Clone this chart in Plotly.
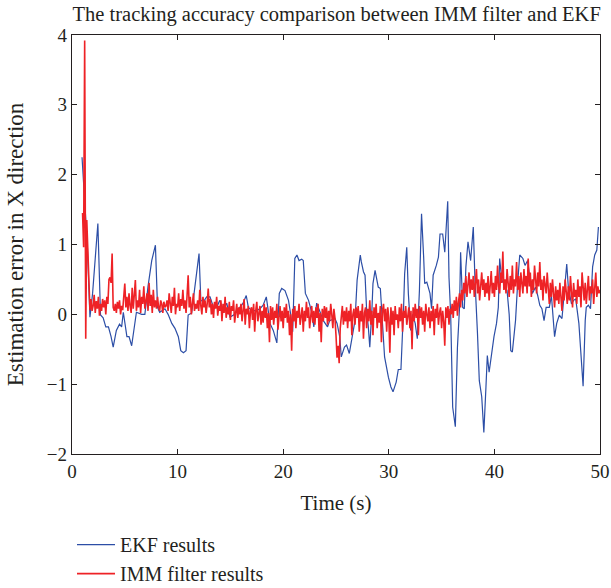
import plotly.graph_objects as go

# EKF results (blue): time (s) and error
ekf_t = [0.95, 1.45, 1.7, 1.95, 2.2, 2.45, 2.7, 2.95, 3.2, 3.45, 3.7, 3.9, 4.2, 4.5, 4.7, 4.86,
         5.2, 5.4, 5.65, 6.1, 6.6, 6.9, 7.2, 7.55, 7.9, 8.1, 8.3, 8.8, 9.1, 9.45, 9.75, 10.07,
         10.3, 10.55, 10.8, 11.0, 11.33, 11.65, 11.9, 12.03, 12.2, 12.45, 12.75, 13.07, 13.4,
         13.7, 14.0, 14.3, 14.65, 14.96, 15.3, 15.6, 15.9, 16.2, 16.5, 16.7, 17.0, 17.4, 17.8,
         18.1, 18.4, 18.5, 18.75, 19.06, 19.4, 19.63, 19.86, 20.17, 20.5, 20.7, 20.9, 21.1,
         21.3, 21.5, 21.75, 21.9, 22.1, 22.4, 22.7, 22.9, 23.17, 23.5, 23.8, 24.2, 24.4, 24.9,
         25.1, 25.35, 25.5, 25.8, 26.0, 26.26, 26.5, 26.8, 27.0, 27.3, 27.4, 27.6, 27.75, 27.9,
         28.06, 28.2, 28.4, 28.5, 28.7, 28.85, 29.0, 29.2, 29.4, 29.6, 29.96, 30.2, 30.4, 30.7,
         30.9, 31.15, 31.4, 31.5, 31.7, 31.85, 32.07, 32.26, 32.5, 32.7, 32.9, 33.1, 33.3, 33.4,
         33.6, 33.9, 34.05, 34.2, 34.5, 34.7, 34.85, 35.1, 35.3, 35.58, 35.7, 35.86, 36.05, 36.3,
         36.5, 36.7, 36.8, 37.0, 37.15, 37.3, 37.5, 37.75, 38.0, 38.16, 38.4, 38.57, 38.8, 39.0,
         39.2, 39.33, 39.5, 39.7, 39.96, 40.2, 40.37, 40.5, 40.7, 40.9, 41.2, 41.4, 41.55, 41.7,
         42.0, 42.2, 42.4, 42.7, 42.9, 43.15, 43.4, 43.6, 43.8, 43.9, 44.1, 44.3, 44.5, 44.7,
         44.9, 45.2, 45.4, 45.7, 45.9, 46.15, 46.4, 46.6, 46.85, 47.0, 47.3, 47.5, 47.7, 48.0,
         48.2, 48.4, 48.6, 48.7, 48.9, 49.1, 49.3, 49.5, 49.7, 49.85]
ekf_err = [2.25, 1.0, -0.04, 0.3, 0.8, 1.3, -0.01, -0.05, -0.18, -0.18, -0.32, -0.47, -0.23,
           -0.14, -0.18, 0.03, -0.32, -0.32, -0.45, 0.03, 0.0, 0.0, 0.4, 0.77, 0.99, 0.1, 0.03,
           0.08, 0.0, -0.13, -0.2, -0.32, -0.52, -0.55, -0.52, -0.01, 0.02, 0.44, 0.73, 0.87,
           0.2, 0.18, 0.25, 0.25, 0.1, 0.1, 0.2, 0.06, 0.16, -0.04, -0.01, 0.06, 0.1, 0.16, 0.27,
           0.1, 0.06, 0.05, 0.08, 0.13, 0.25, 0.13, -0.13, -0.23, -0.41, 0.3, 0.37, 0.34, 0.2,
           0.01, -0.25, 0.8, 0.85, 0.77, 0.79, 0.77, 0.3, 0.2, 0.03, -0.18, 0.16, 0.03, -0.09,
           -0.18, -0.09, -0.06, -0.13, -0.32, -0.61, -0.47, -0.44, -0.56, -0.37, -0.09, 0.49,
           0.85, 0.75, 0.61, 0.56, 0.06, -0.18, -0.47, 0.06, 0.44, 0.63, 0.53, 0.39, 0.37, -0.09,
           -0.61, -0.9, -1.04, -1.11, -0.97, -0.79, -0.79, 0.1, 0.58, 0.96, 0.3, -0.23, 0.0,
           -0.13, -0.35, 0.34, 1.44, 0.82, 0.44, 0.46, 0.3, 0.08, 0.56, 0.7, 0.82, 1.15, 1.15,
           0.89, 1.62, 0.53, 0.0, -1.33, -1.61, -0.47, 0.1, 0.89, 0.1, 0.08, 0.68, 1.04, 0.77,
           1.25, 0.49, -0.28, -0.95, -1.18, -1.69, -1.04, -0.59, -0.83, -0.59, -0.32, -0.13, 0.1,
           0.8, 0.49, 0.44, 0.34, 0.0, -0.52, -0.54, -0.09, 0.44, 0.85, 0.8, 0.7, 0.77, 0.46, 0.3,
           0.37, 0.39, 0.27, 0.13, 0.08, -0.09, 0.1, 0.1, 0.27, -0.32, -0.13, -0.01, -0.06, 0.3,
           0.72, 0.39, 0.15, 0.2, 0.22, -0.13, -0.61, -1.03, -0.09, 0.1, 0.13, 0.08, 0.68, 0.85,
           0.92, 1.25]

# IMM filter results (red), sampled every 0.1 s from 1.0 s to 50.0 s
imm_start, imm_step = 1.0, 0.1
imm_err = [
    1.45, 0.96, 3.92, -0.35, 1.35, 0.95, 0.63, 0.06, 0.22, 0.05,
    0.12, 0.28, 0.02, 0.19, 0.08, 0.25, -0.02, 0.15, 0.05, 0.22,
    0.1, 0.2, 0.0, 0.25, 0.15, 0.5, 0.53, 0.45, 0.87, 0.1,
    0.05, 0.15, 0.02, 0.18, 0.08, 0.2, 0.0, 0.12, 0.06, 0.22,
    0.44, 0.1, 0.25, 0.05, 0.3, 0.12, 0.02, 0.38, 0.08, 0.28,
    0.49, 0.05, 0.2, 0.1, 0.35, 0.02, 0.25, 0.15, 0.4, 0.08,
    0.2, 0.3, 0.05, 0.45, 0.12, 0.28, 0.02, 0.35, 0.1, 0.2,
    0.08, 0.25, 0.1, 0.05, 0.2, 0.15, 0.02, 0.18, 0.1, 0.12,
    0.2, 0.05, 0.3, 0.1, 0.02, 0.25, 0.12, 0.38, 0.0, 0.15,
    0.1, 0.3, 0.05, 0.22, 0.12, 0.35, 0.08, 0.2, 0.02, 0.28,
    0.56, 0.1, 0.25, 0.0, 0.18, 0.3, 0.05, 0.15, 0.08, 0.2,
    0.05, 0.35, 0.12, 0.0, 0.25, 0.1, 0.2, 0.02, 0.15, 0.37,
    0.1, 0.22, 0.0, 0.15, -0.05, 0.18, 0.08, 0.25, -0.02, 0.12,
    0.05, 0.2, -0.1, 0.15, 0.02, 0.25, -0.05, 0.1, 0.0, 0.18,
    -0.08, 0.12, 0.05, 0.2, -0.12, 0.08, 0.15, -0.05, 0.1, 0.0,
    0.15, -0.1, 0.05, 0.22, -0.15, 0.08, 0.0, 0.12, -0.2, 0.05,
    0.1, -0.08, 0.15, -0.25, 0.05, 0.18, -0.1, 0.02, 0.12, -0.15,
    0.05, -0.12, 0.15, -0.05, 0.1, -0.2, 0.02, -0.4, 0.12, -0.08,
    0.1, -0.15, 0.05, -0.05, 0.15, -0.22, 0.02, 0.12, -0.1, 0.05,
    -0.2, 0.1, -0.05, 0.15, -0.12, 0.05, -0.3, 0.0, -0.52, 0.08,
    -0.1, 0.12, -0.2, 0.05, -0.05, 0.15, -0.15, 0.0, 0.1, -0.25,
    0.05, -0.1, 0.18, -0.05, 0.1, -0.2, 0.02, 0.12, -0.12, 0.05,
    -0.15, 0.1, -0.05, 0.15, -0.25, 0.02, -0.4, 0.08, -0.1, 0.12,
    -0.05, 0.1, -0.15, 0.05, -0.1, 0.15, 0.0, -0.2, 0.08, -0.05,
    -0.3, -0.62, -0.45, -0.7, -0.2, -0.05, 0.12, -0.15, 0.05, -0.1,
    0.1, -0.2, 0.05, -0.1, 0.15, -0.3, 0.0, 0.08, -0.15, 0.1,
    -0.05, 0.12, -0.25, 0.05, -0.1, 0.15, -0.35, 0.02, 0.1, -0.2,
    0.08, -0.1, 0.2, -0.15, 0.05, -0.3, 0.1, -0.05, 0.15, -0.2,
    0.02, -0.12, 0.12, -0.4, 0.05, 0.15, -0.1, 0.08, -0.25, 0.1,
    -0.05, -0.55, 0.1, -0.15, 0.05, -0.3, 0.12, -0.08, 0.0, -0.2,
    0.1, -0.1, 0.15, -0.25, 0.05, -0.05, 0.12, -0.15, 0.02, 0.1,
    -0.2, 0.05, -0.5, 0.1, -0.1, 0.15, -0.05, 0.08, -0.3, 0.12,
    -0.05, 0.1, -0.15, 0.05, -0.25, 0.15, 0.0, -0.1, 0.1, -0.2,
    0.05, -0.1, 0.12, -0.3, 0.08, -0.05, 0.15, -0.15, 0.02, 0.1,
    -0.2, 0.05, -0.1, -0.45, 0.1, -0.05, 0.12, -0.15, 0.08, 0.0,
    0.15, -0.05, 0.2, 0.05, 0.25, -0.02, 0.18, 0.3, 0.1, 0.35,
    0.2, 0.45, 0.3, 0.55, 0.25, 0.4, 0.6, 0.3, 0.5, 0.35,
    0.55, 0.25, 0.45, 0.65, 0.3, 0.5, 0.2, 0.45, 0.6, 0.35,
    0.5, 0.25, 0.45, 0.3, 0.55, 0.2, 0.4, 0.62, 0.3, 0.45,
    0.25, 0.55, 0.35, 0.7, 0.4, 0.3, 0.6, 0.45, 0.9, 0.35,
    0.5, 0.3, 0.65, 0.4, 0.25, 0.55, 0.35, 0.7, 0.3, 0.5,
    0.4, 0.75, 0.35, 0.55, 0.25, 0.6, 0.45, 0.3, 0.65, 0.4,
    0.55, 0.3, 0.8, 0.4, 0.6, 0.25, 0.5, 0.35, 0.7, 0.45,
    0.3, 0.6, 0.4, 0.75, 0.35, 0.5, 0.2, 0.55, 0.4, 0.3,
    0.6, 0.35, 0.15, 0.45, 0.25, 0.5, 0.3, 0.1, 0.4, 0.2,
    0.35, 0.15, 0.45, 0.25, 0.05, 0.4, 0.2, 0.5, 0.3, 0.15,
    0.4, 0.2, 0.55, 0.3, 0.1, 0.45, 0.25, 0.35, 0.15, 0.5,
    0.25, 0.4, 0.1, 0.6, 0.3, 0.2, 0.45, 0.15, 0.35, 0.55,
    0.2, 0.4, 0.3, 0.5, 0.15, 0.35, 0.6, 0.25, 0.4, 0.3,
    0.35,
]
imm_t = [round(imm_start + i * imm_step, 2) for i in range(len(imm_err))]

x_ticks = [0, 10, 20, 30, 40, 50]
y_ticks = [-2, -1, 0, 1, 2, 3, 4]

FONT = "Liberation Serif"

fig = go.Figure()
fig.add_trace(go.Scatter(x=ekf_t, y=ekf_err, mode="lines", name="EKF results",
                         line=dict(color="#2c4ea6", width=1.2)))
fig.add_trace(go.Scatter(x=imm_t, y=imm_err, mode="lines", name="IMM filter results",
                         line=dict(color="#ee2226", width=1.6)))

axis_common = dict(showline=True, linecolor="#231f20", linewidth=1.3, mirror="ticks",
                   ticks="inside", ticklen=5, tickcolor="#231f20", showgrid=False,
                   zeroline=False, automargin=False,
                   tickfont=dict(family=FONT, size=19, color="#231f20"))

fig.update_layout(
    width=611, height=588,
    margin=dict(l=72, r=11, t=35, b=134),
    paper_bgcolor="white", plot_bgcolor="white",
    font=dict(family=FONT, color="#231f20"),
    title=dict(text="The tracking accuracy comparison between IMM filter and EKF",
               font=dict(family=FONT, size=20.5, color="#231f20"),
               x=0.551, xanchor="center", y=0.976, yanchor="middle"),
    xaxis=dict(range=[0, 50], tickvals=x_ticks,
               title=dict(text="Time (s)", font=dict(family=FONT, size=21), standoff=14),
               **axis_common),
    yaxis=dict(range=[-2, 4], tickvals=y_ticks,
               title=dict(text="Estimation error in X direction", font=dict(family=FONT, size=23),
                          standoff=16),
               **axis_common),
    showlegend=True,
    legend=dict(x=0.0, y=0.107, xref="paper", yref="container",
                xanchor="left", yanchor="top", orientation="v",
                font=dict(family=FONT, size=20, color="#231f20"),
                bgcolor="rgba(0,0,0,0)", tracegroupgap=0, itemwidth=38),
)

fig.write_html("out.html")
